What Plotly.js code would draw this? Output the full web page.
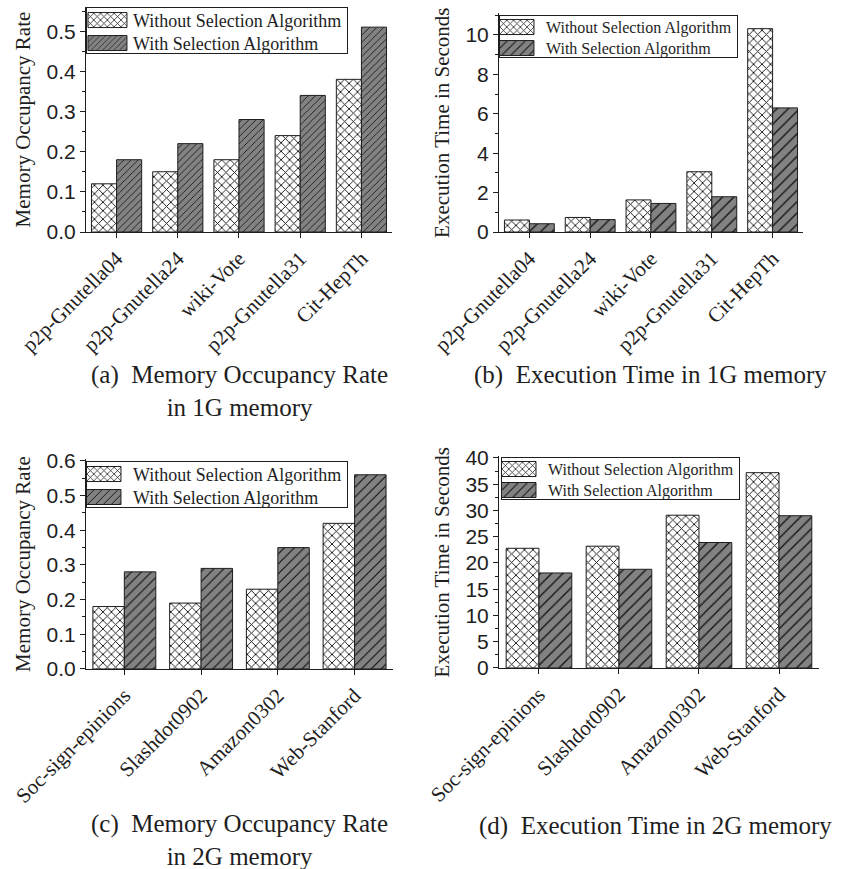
<!DOCTYPE html>
<html>
<head>
<meta charset="utf-8">
<script src="https://cdn.plot.ly/plotly-3.0.1.min.js"></script>
<style>
  html, body { margin: 0; padding: 0; background: #fff; }
  #chart { width: 842px; height: 869px; }
</style>
</head>
<body>
<div id="chart"></div>
<script>
// Datasets
const graphs1G = ['p2p-Gnutella04', 'p2p-Gnutella24', 'wiki-Vote', 'p2p-Gnutella31', 'Cit-HepTh'];
const graphs2G = ['Soc-sign-epinions', 'Slashdot0902', 'Amazon0302', 'Web-Stanford'];

// Memory occupancy rate, 1G memory
const memWithout1G = [0.12, 0.15, 0.18, 0.24, 0.38];
const memWith1G = [0.18, 0.22, 0.28, 0.34, 0.51];
// Execution time (s), 1G memory
const timeWithout1G = [0.61, 0.74, 1.63, 3.06, 10.32];
const timeWith1G = [0.42, 0.63, 1.45, 1.79, 6.3];
// Memory occupancy rate, 2G memory
const memWithout2G = [0.18, 0.19, 0.23, 0.42];
const memWith2G = [0.28, 0.29, 0.35, 0.56];
// Execution time (s), 2G memory
const timeWithout2G = [22.8, 23.2, 29.1, 37.2];
const timeWith2G = [18.1, 18.8, 23.9, 29.0];

const seriesNames = ['Without Selection Algorithm', 'With Selection Algorithm'];

const SERIF = '"Liberation Serif", "Times New Roman", serif';
const SANS = '"Liberation Sans", Arial, sans-serif';
const INK = '#1e1e1e';

function withoutBar(x, y, xa, ya, lg) {
  return {
    type: 'bar', x: x, y: y, xaxis: xa, yaxis: ya, legend: lg,
    name: seriesNames[0],
    marker: {
      color: '#ffffff',
      line: { color: INK, width: 1 },
      pattern: { shape: 'x', bgcolor: '#ffffff', fgcolor: '#111111', size: 6, solidity: 0.28, fillmode: 'replace' }
    },
    hoverinfo: 'x+y'
  };
}
function withBar(x, y, xa, ya, lg, size) {
  return {
    type: 'bar', x: x, y: y, xaxis: xa, yaxis: ya, legend: lg,
    name: seriesNames[1],
    marker: {
      color: '#808080',
      line: { color: INK, width: 1 },
      pattern: { shape: '/', bgcolor: '#828282', fgcolor: '#141414', size: size, solidity: 0.17, fillmode: 'replace' }
    },
    hoverinfo: 'x+y'
  };
}

const data = [
  withoutBar(graphs1G, memWithout1G, 'x', 'y', 'legend'),
  withBar(graphs1G, memWith1G, 'x', 'y', 'legend', 5),
  withoutBar(graphs1G, timeWithout1G, 'x2', 'y2', 'legend2'),
  withBar(graphs1G, timeWith1G, 'x2', 'y2', 'legend2', 8),
  withoutBar(graphs2G, memWithout2G, 'x3', 'y3', 'legend3'),
  withBar(graphs2G, memWith2G, 'x3', 'y3', 'legend3', 7),
  withoutBar(graphs2G, timeWithout2G, 'x4', 'y4', 'legend4'),
  withBar(graphs2G, timeWith2G, 'x4', 'y4', 'legend4', 8)
];

function xAxis(domain, anchor) {
  return {
    domain: domain, anchor: anchor, type: 'category',
    showline: true, linecolor: INK, linewidth: 1, mirror: false,
    ticks: 'outside', ticklen: 5, tickcolor: INK,
    tickangle: -45,
    tickfont: { family: SERIF, size: 21, color: INK },
    showgrid: false, zeroline: false, fixedrange: true
  };
}
function yAxis(domain, anchor, range, dtick, minorDtick, fmt, title) {
  return {
    domain: domain, anchor: anchor, range: range,
    showline: true, linecolor: INK, linewidth: 1,
    ticks: 'outside', ticklen: 5, tickcolor: INK,
    dtick: dtick, tick0: 0, tickformat: fmt,
    minor: { ticks: 'outside', ticklen: 3, tickcolor: INK, dtick: minorDtick, tick0: 0, showgrid: false },
    tickfont: { family: SANS, size: 21, color: INK },
    showgrid: false, zeroline: false, fixedrange: true,
    title: { text: title, font: { family: SERIF, size: 21, color: INK }, standoff: 10 }
  };
}
function legendBox(x, y, fontSize) {
  return {
    x: x, y: y, xanchor: 'left', yanchor: 'top',
    bgcolor: '#ffffff', bordercolor: INK, borderwidth: 1,
    font: { family: SERIF, size: fontSize, color: INK },
    itemwidth: 36, tracegroupgap: 0,
    itemclick: false, itemdoubleclick: false
  };
}
function caption(text, x, y) {
  return {
    xref: 'paper', yref: 'paper', x: x, y: y,
    xanchor: 'center', yanchor: 'middle', align: 'center',
    showarrow: false, text: text,
    font: { family: SERIF, size: 25, color: INK }
  };
}

const layout = {
  width: 842, height: 869,
  margin: { l: 0, r: 0, t: 0, b: 0 },
  paper_bgcolor: '#ffffff', plot_bgcolor: '#ffffff',
  barmode: 'group', bargap: 0.18, bargroupgap: 0,
  xaxis: xAxis([0.1021, 0.4656], 'y'),
  yaxis: yAxis([0.7330, 0.9919], 'x', [0, 0.56], 0.1, 0.05, '.1f', 'Memory Occupancy Rate'),
  xaxis2: xAxis([0.5926, 0.9537], 'y2'),
  yaxis2: yAxis([0.7330, 0.9847], 'x2', [0, 11.1], 2, 1, 'd', 'Execution Time in Seconds'),
  xaxis3: xAxis([0.1021, 0.4667], 'y3'),
  yaxis3: yAxis([0.2302, 0.4716], 'x3', [0, 0.605], 0.1, 0.05, '.1f', 'Memory Occupancy Rate'),
  xaxis4: xAxis([0.5926, 0.9727], 'y4'),
  yaxis4: yAxis([0.2313, 0.4748], 'x4', [0, 40.3], 5, 2.5, 'd', 'Execution Time in Seconds'),
  legend: legendBox(0.1021, 0.9919, 18),
  legend2: legendBox(0.5926, 0.9827, 16),
  legend3: legendBox(0.1021, 0.4695, 18),
  legend4: legendBox(0.5950, 0.4741, 16),
  annotations: [
    caption('(a)\u00a0 Memory Occupancy Rate<br>in 1G memory', 0.285, 0.5506),
    caption('(b)\u00a0 Execution Time in 1G memory', 0.773, 0.5685),
    caption('(c)\u00a0 Memory Occupancy Rate<br>in 2G memory', 0.285, 0.033),
    caption('(d)\u00a0 Execution Time in 2G memory', 0.779, 0.0495)
  ],
  showlegend: true
};

// Legend styling: compact rows and wide patterned swatches
const legendRows = {
  legend: { top: 13, gap: 23, swatch: 39 },
  legend2: { top: 12, gap: 21, swatch: 36 },
  legend3: { top: 13, gap: 23, swatch: 39 },
  legend4: { top: 12, gap: 21, swatch: 36 }
};

function tidyLegends(gd) {
  Object.keys(legendRows).forEach(function (id) {
    const cfg = legendRows[id];
    const g = gd.querySelector('g.infolayer g.' + id);
    if (!g) return;
    const items = g.querySelectorAll('g.traces');
    items.forEach(function (item, i) {
      const m = /translate\(\s*([-\d.]+)[ ,]+([-\d.]+)\s*\)/.exec(item.getAttribute('transform') || '');
      const tx = m ? parseFloat(m[1]) : 0;
      item.setAttribute('transform', 'translate(' + tx + ',' + (cfg.top + i * cfg.gap) + ')');
      const text = item.querySelector('text.legendtext');
      const textX = text ? parseFloat(text.getAttribute('x')) || 40 : 40;
      item.querySelectorAll('g.legendpoints path').forEach(function (p) {
        const right = textX - 6;
        const left = right - cfg.swatch;
        p.setAttribute('transform', 'translate(0,0)');
        p.setAttribute('d', 'M' + right + ',7.5H' + left + 'V-7.5H' + right + 'Z');
      });
    });
    const bg = g.querySelector('rect.bg');
    if (bg) bg.setAttribute('height', cfg.gap * items.length);
  });
}

Plotly.newPlot('chart', data, layout, { displayModeBar: false, staticPlot: true }).then(function (gd) {
  tidyLegends(gd);
  setTimeout(function () { tidyLegends(gd); }, 50);
});
</script>
</body>
</html>
